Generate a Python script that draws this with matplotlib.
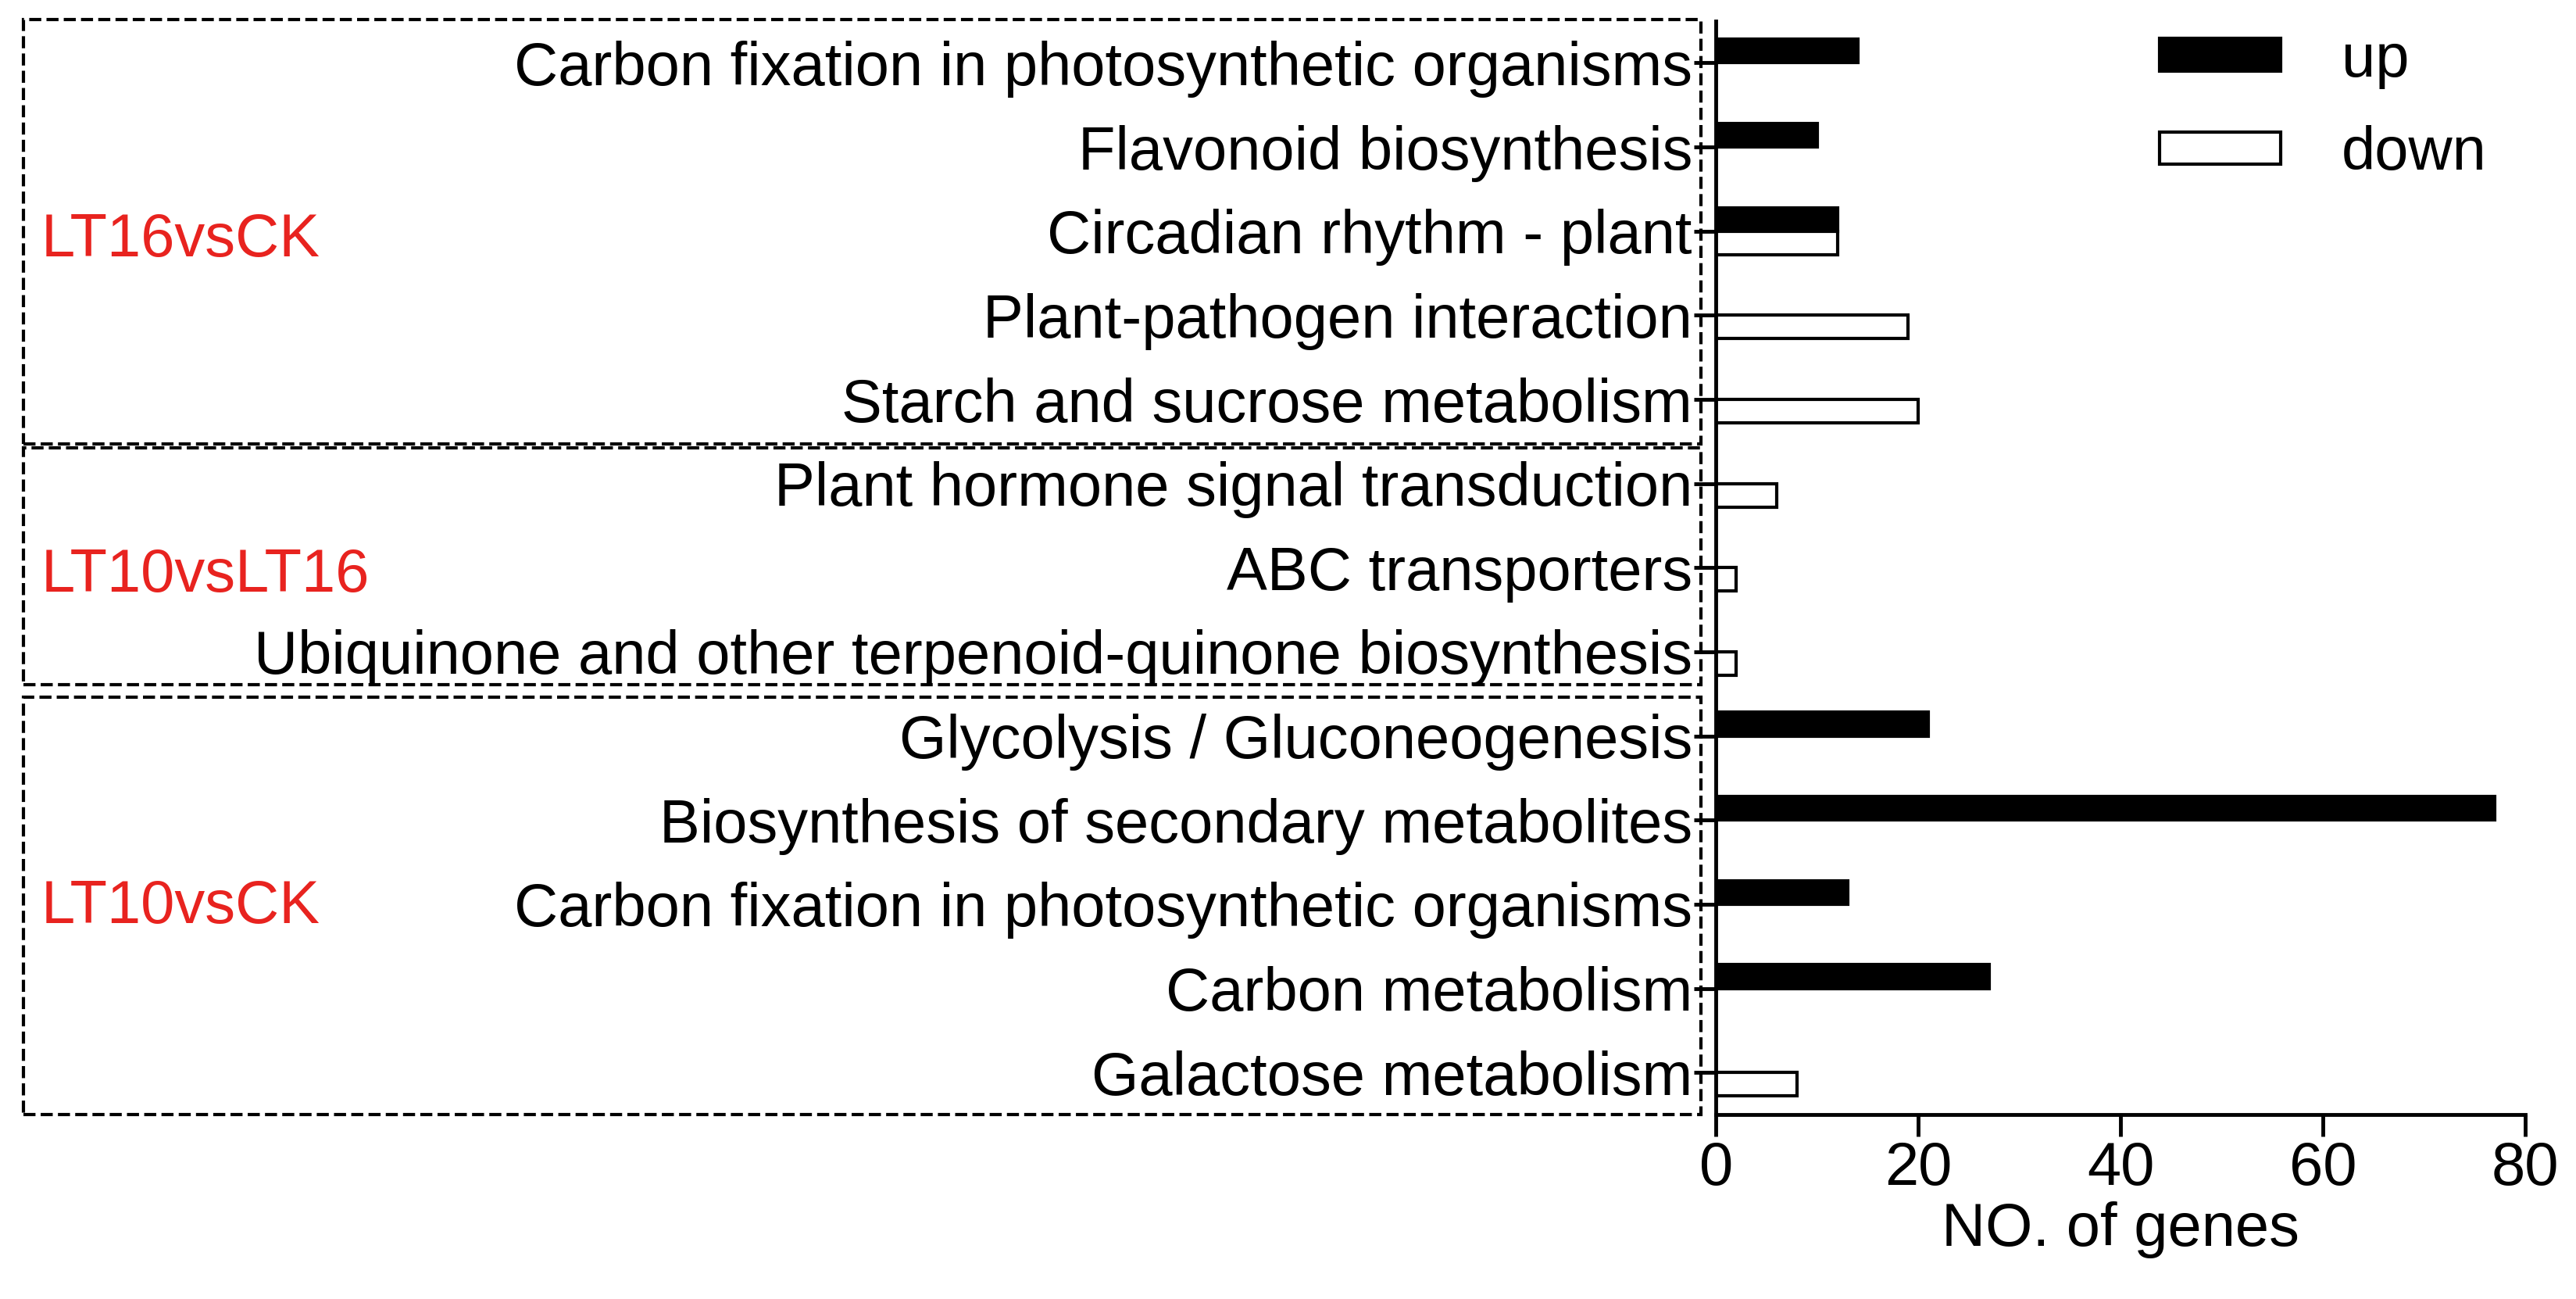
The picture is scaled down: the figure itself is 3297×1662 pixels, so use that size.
import matplotlib.pyplot as plt
import numpy as np
from matplotlib.patches import Rectangle

plt.rcParams['font.family'] = ['Liberation Sans', 'DejaVu Sans']

# categories top to bottom
pathways = ["Carbon fixation in photosynthetic organisms", "Flavonoid biosynthesis",
            "Circadian rhythm - plant", "Plant-pathogen interaction",
            "Starch and sucrose metabolism", "Plant hormone signal transduction",
            "ABC transporters", "Ubiquinone and other terpenoid-quinone biosynthesis",
            "Glycolysis / Gluconeogenesis", "Biosynthesis of secondary metabolites",
            "Carbon fixation in photosynthetic organisms", "Carbon metabolism",
            "Galactose metabolism"]
up = [14, 10, 12, 0, 0, 0, 0, 0, 21, 77, 13, 27, 0]
down = [0, 0, 12, 19, 20, 6, 2, 2, 0, 0, 0, 0, 8]
groups = ["LT16vsCK", "LT10vsLT16", "LT10vsCK"]

fig = plt.figure(figsize=(32.98, 16.62), dpi=100)
ax = fig.add_axes([0.666, 0.142, 0.314, 0.842])

y = np.arange(len(pathways))[::-1]
h = 0.28
ax.barh(y + h / 2, up, height=h, color='black', edgecolor='black', linewidth=3, label='up')
ax.barh(y - h / 2, down, height=h, color='white', edgecolor='black', linewidth=3, label='down')

ax.set_ylim(-0.5, len(pathways) - 0.5)
ax.set_xlim(0, 80)
ax.set_xticks([0, 20, 40, 60, 80])
ax.set_yticks(y)
ax.set_yticklabels(pathways)
ax.tick_params(axis='both', labelsize=56, width=3.5, length=20)
ax.tick_params(axis='y', pad=2)
ax.set_xlabel("NO. of genes", fontsize=56, labelpad=4)
for s in ['top', 'right']:
    ax.spines[s].set_visible(False)
for s in ['left', 'bottom']:
    ax.spines[s].set_linewidth(3.5)

ax.legend(loc='upper right', bbox_to_anchor=(1.02, 1.04), fontsize=56, frameon=False,
          handlelength=2.0, handleheight=0.45, labelspacing=0.6, handletextpad=1.0)

# dashed group boxes (figure coords)
boxes = [(0.985, 0.658), (0.655, 0.473), (0.463, 0.142)]
label_y = [0.815, 0.557, 0.302]
for (top, bot), g, ly in zip(boxes, groups, label_y):
    fig.add_artist(Rectangle((0.009, bot), 0.651, top - bot, transform=fig.transFigure,
                             fill=False, linestyle='--', linewidth=3, edgecolor='black'))
    fig.text(0.016, ly, g, color='#e8231f', fontsize=56, va='center')

fig.savefig("out.png")
